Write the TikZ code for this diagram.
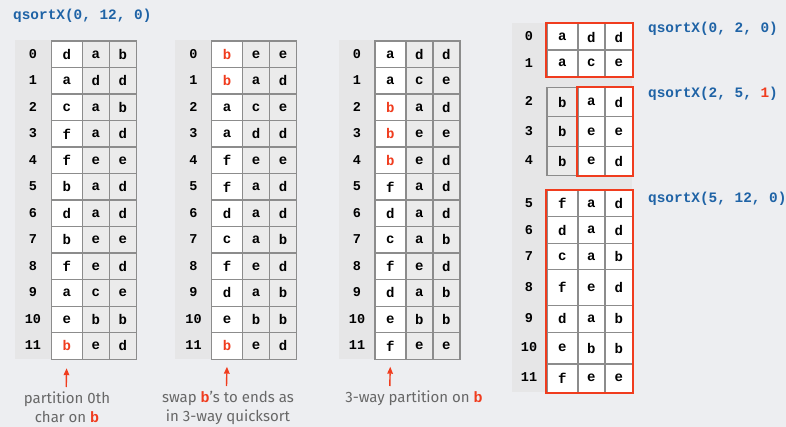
\documentclass[tikz,border=0pt]{standalone}
\usepackage{fontspec}
\setmainfont{Fira Sans}
\newfontfamily\mono{Liberation Mono}
\usepackage{xcolor}
\definecolor{cBg}{HTML}{EDEEF1}
\definecolor{cPanel}{HTML}{E6E6E7}
\definecolor{cCell}{HTML}{EBEBEB}
\definecolor{cGrid}{HTML}{8C8C8C}
\definecolor{cRed}{HTML}{F03C1E}
\definecolor{cBlue}{HTML}{1F63A6}
\definecolor{cNote}{HTML}{676767}
\usetikzlibrary{positioning,arrows.meta,calc}
\newcommand\redch[1]{\textcolor{cRed}{#1}}
\newcommand\redb{{\mono\bfseries\textcolor{cRed}{b}}}
\tikzset{
  cell/.style={draw=cGrid,line width=1.2pt,anchor=north west,inner sep=0pt,
    minimum height=26.5pt,font=\mono\bfseries\fontsize{14}{14}\selectfont},
  cell-key/.style={cell,fill=white,minimum width=31pt},
  cell-rest/.style={cell,fill=cCell,minimum width=27pt},
  idx/.style={inner sep=0pt,font=\mono\bfseries\fontsize{13.5}{13.5}\selectfont},
  call/.style={anchor=base west,inner sep=0pt,text=cBlue,
    font=\mono\bfseries\fontsize{14.4}{14.4}\selectfont},
  note/.style={align=center,inner sep=0pt,text=cNote,
    font=\fontsize{15}{19}\selectfont},
  % sub-array frames and pointers in red
  frame/.style={draw=cRed,line width=2pt},
  arrow-red/.style={-{Triangle[length=7pt,width=5.5pt]},line width=1.4pt,draw=cRed},
}

\begin{document}
\begin{tikzpicture}[x=1pt,y=-1pt]
  \fill[cBg] (0,0) rectangle (786,427);
  \useasboundingbox (0,0) rectangle (786,427);

  \node[call] (q-all) at (13,20) {qsortX(0, 12, 0)};

  % before partitioning
  \fill[cPanel] (15,40.5) rectangle (135,358.5);
  \foreach \i/\p/\q/\r in {0/d/a/b, 1/a/d/d, 2/c/a/b, 3/f/a/d, 4/f/e/e, 5/b/a/d,
      6/d/a/d, 7/b/e/e, 8/f/e/d, 9/a/c/e, 10/e/b/b, 11/\redch{b}/e/d}{
    \node[idx] (a-\i) at (33,{53.75+26.5*\i}) {\i};
    \node[cell-key]  (a-\i-1) at (50.7,{40.5+26.5*\i}) {\p};
    \node[cell-rest] (a-\i-2) at (81.7,{40.5+26.5*\i}) {\q};
    \node[cell-rest] (a-\i-3) at (108.7,{40.5+26.5*\i}) {\r};
  }

  % after the swaps
  \fill[cPanel] (175,40.5) rectangle (295,358.5);
  \foreach \i/\p/\q/\r in {0/\redch{b}/e/e, 1/\redch{b}/a/d, 2/a/c/e, 3/a/d/d,
      4/f/e/e, 5/f/a/d, 6/d/a/d, 7/c/a/b, 8/f/e/d, 9/d/a/b, 10/e/b/b,
      11/\redch{b}/e/d}{
    \node[idx] (b-\i) at (193.5,{53.75+26.5*\i}) {\i};
    \node[cell-key]  (b-\i-1) at (211,{40.5+26.5*\i}) {\p};
    \node[cell-rest] (b-\i-2) at (242,{40.5+26.5*\i}) {\q};
    \node[cell-rest] (b-\i-3) at (269,{40.5+26.5*\i}) {\r};
  }

  % after 3-way partition
  \fill[cPanel] (339,40.5) rectangle (459,358.5);
  \foreach \i/\p/\q/\r in {0/a/d/d, 1/a/c/e, 2/\redch{b}/a/d, 3/\redch{b}/e/e,
      4/\redch{b}/e/d, 5/f/a/d, 6/d/a/d, 7/c/a/b, 8/f/e/d, 9/d/a/b, 10/e/b/b,
      11/f/e/e}{
    \node[idx] (c-\i) at (357,{53.75+26.5*\i}) {\i};
    \node[cell-key]  (c-\i-1) at (374.3,{40.5+26.5*\i}) {\p};
    \node[cell-rest] (c-\i-2) at (405.3,{40.5+26.5*\i}) {\q};
    \node[cell-rest] (c-\i-3) at (432.3,{40.5+26.5*\i}) {\r};
  }

  % three sub-arrays
  \fill[cPanel] (512,23) rectangle (632,392);
  \foreach \i/\t/\h/\p/\q/\r/\f in {0/23.3/26.2/a/d/d/white, 1/49.5/26.2/a/c/e/white,
      2/86.7/29.5/b/a/d/cCell, 3/116.2/29.5/b/e/e/cCell, 4/145.7/29.5/b/e/d/cCell,
      5/190/26/f/a/d/white, 6/216/27.3/d/a/d/white, 7/243.3/26/c/a/b/white,
      8/269.3/35.4/f/e/d/white, 9/304.7/27/d/a/b/white, 10/331.7/31.6/e/b/b/white,
      11/363.3/28.4/f/e/e/white}{
    \node[idx] (s-\i) at (529,{\t+\h/2}) {\i};
    \node[cell,fill=\f,minimum width=31pt,minimum height=\h pt] (s-\i-1) at (546.3,\t) {\p};
    \node[cell,fill=white,minimum width=27pt,minimum height=\h pt] (s-\i-2) at (577.3,\t) {\q};
    \node[cell,fill=white,minimum width=27.7pt,minimum height=\h pt] (s-\i-3) at (604.3,\t) {\r};
  }
  \draw[frame] (s-0-1.north west) rectangle (s-1-3.south east);
  \draw[frame] (s-2-2.north west) rectangle (s-4-3.south east);
  \draw[frame] (s-5-1.north west) rectangle (s-11-3.south east);

  \node[call] (q-lo) at (648,33) {qsortX(0, 2, 0)};
  \node[call] (q-eq) at (648,98) {qsortX(2, 5, \redch{1})};
  \node[call] (q-hi) at (648,203) {qsortX(5, 12, 0)};

  % captions
  \node[note] (n-a) at (67,407.5) {partition 0th\\char on \redb};
  \node[note] (n-b) at (228,407.5) {swap \redb's to ends as\\in 3-way quicksort};
  \node[note] (n-c) at (414,398) {3-way partition on \redb};
  \coordinate (p-a) at (66.2,387);
  \coordinate (p-b) at (226.5,386);
  \coordinate (p-c) at (389.8,386);
  \draw[arrow-red,shorten >=8.5pt] (p-a) -- (a-11-1.south);
  \draw[arrow-red,shorten >=7pt] (p-b) -- (b-11-1.south);
  \draw[arrow-red,shorten >=7pt] (p-c) -- (c-11-1.south);
\end{tikzpicture}
\end{document}
